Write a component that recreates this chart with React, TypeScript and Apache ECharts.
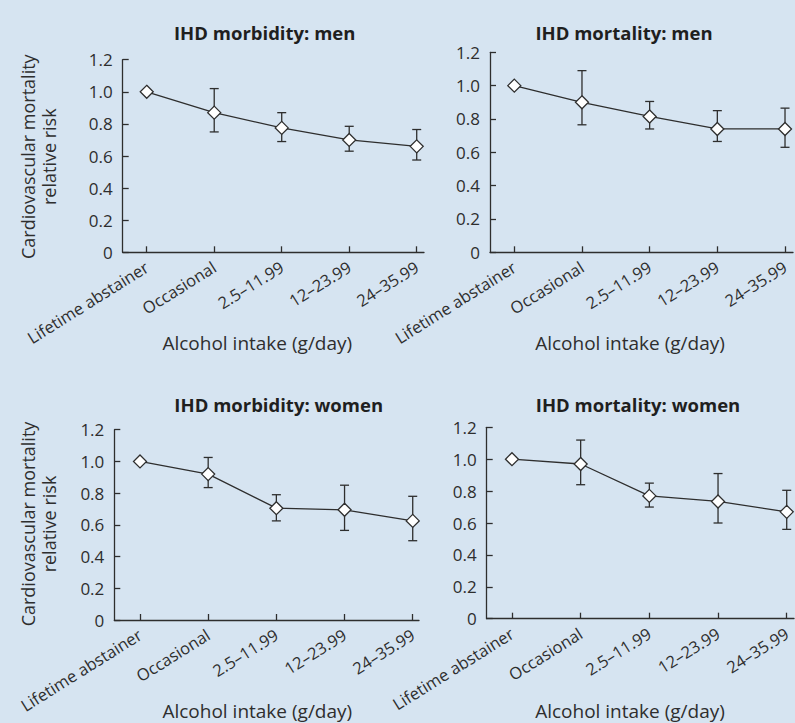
import React, { useEffect, useRef } from "react";
import * as echarts from "echarts";

const categories = ["Lifetime abstainer", "Occasional", "2.5–11.99", "12–23.99", "24–35.99"];
const yTicks = [0, 0.2, 0.4, 0.6, 0.8, 1.0, 1.2];
const panelTitles = ["IHD morbidity: men", "IHD mortality: men", "IHD morbidity: women", "IHD mortality: women"];
const xAxisTitle = "Alcohol intake (g/day)";
const yAxisTitle = "Cardiovascular mortality\nrelative risk";

// IHD morbidity: men
const morbMenRR = [1.0, 0.87, 0.775, 0.7, 0.66];
const morbMenLow = [null, 0.75, 0.69, 0.63, 0.575];
const morbMenHigh = [null, 1.02, 0.87, 0.785, 0.765];
// IHD mortality: men
const mortMenRR = [1.0, 0.9, 0.815, 0.74, 0.74];
const mortMenLow = [null, 0.765, 0.74, 0.665, 0.63];
const mortMenHigh = [null, 1.09, 0.905, 0.85, 0.865];
// IHD morbidity: women
const morbWomenRR = [1.0, 0.92, 0.705, 0.695, 0.625];
const morbWomenLow = [null, 0.835, 0.625, 0.565, 0.5];
const morbWomenHigh = [null, 1.025, 0.79, 0.85, 0.78];
// IHD mortality: women
const mortWomenRR = [1.0, 0.97, 0.77, 0.735, 0.67];
const mortWomenLow = [null, 0.84, 0.7, 0.6, 0.56];
const mortWomenHigh = [null, 1.12, 0.85, 0.91, 0.805];

const W = 795;
const H = 723;
const FONT = "'Open Sans', sans-serif";
const INK = "#2e2e2e";

const layouts = [
  { l: 122.7, r: 424, t: 59.7, b: 252.3, min: -0.356, max: 4.108, title: [264.7, 32], xname: [257.3, 343], yname: [38, 156.7] },
  { l: 490, r: 793, t: 52.3, b: 252.3, min: -0.359, max: 4.118, title: [624, 32], xname: [630, 343], yname: null },
  { l: 114.3, r: 419, t: 429.7, b: 620, min: -0.377, max: 4.092, title: [278.7, 404], xname: [257.3, 711], yname: [38, 524] },
  { l: 486.7, r: 794, t: 427.3, b: 618.7, min: -0.368, max: 4.106, title: [638, 404], xname: [630, 711], yname: null },
];

const panelData = [
  [morbMenRR, morbMenLow, morbMenHigh],
  [mortMenRR, mortMenLow, mortMenHigh],
  [morbWomenRR, morbWomenLow, morbWomenHigh],
  [mortWomenRR, mortWomenLow, mortWomenHigh],
];

export default function App() {
  const ref = useRef<HTMLDivElement>(null);
  useEffect(() => {
    document.body.style.margin = "0";
    if (!ref.current) return;
    const chart = echarts.init(ref.current, null, { renderer: "svg" });
    const grid: any[] = [];
    const xAxis: any[] = [];
    const yAxis: any[] = [];
    const series: any[] = [];
    const graphic: any[] = [];
    layouts.forEach((L, i) => {
      grid.push({ left: L.l, top: L.t, width: L.r - L.l, height: L.b - L.t, containLabel: false });
      xAxis.push({
        type: "value",
        gridIndex: i,
        min: L.min,
        max: L.max,
        splitLine: { show: false },
        axisLine: { onZero: false, lineStyle: { color: INK, width: 1.3 } },
        axisTick: { inside: true, length: 6, customValues: [0, 1, 2, 3, 4], lineStyle: { color: INK, width: 1.3 } },
        axisLabel: {
          customValues: [0, 1, 2, 3, 4],
          rotate: 32,
          margin: 13,
          color: INK,
          fontFamily: FONT,
          fontSize: 16.5,
          formatter: (v: number) => categories[Math.round(v)] ?? "",
        },
      });
      yAxis.push({
        type: "value",
        gridIndex: i,
        min: 0,
        max: 1.2,
        interval: 0.2,
        splitLine: { show: false },
        axisLine: { show: true, onZero: false, lineStyle: { color: INK, width: 1.3 } },
        axisTick: { show: true, inside: true, length: 6, lineStyle: { color: INK, width: 1.3 } },
        axisLabel: {
          color: INK,
          fontFamily: FONT,
          fontSize: 17,
          margin: 10,
          formatter: (v: number) => {
            const t = yTicks.find((k) => Math.abs(k - v) < 1e-6);
            const val = t === undefined ? v : t;
            return val === 0 ? "0" : val.toFixed(1);
          },
        },
      });
      const [rr, lo, hi] = panelData[i];
      const errData = categories
        .map((_, k) => (lo[k] == null ? null : [k, lo[k], hi[k]]))
        .filter((d) => d !== null);
      series.push({
        type: "custom",
        xAxisIndex: i,
        yAxisIndex: i,
        z: 2,
        data: errData,
        encode: { x: 0, y: [1, 2] },
        renderItem: (params: any, api: any) => {
          const x = api.value(0);
          const pLo = api.coord([x, api.value(1)]);
          const pHi = api.coord([x, api.value(2)]);
          const hw = 4.5;
          const st = { stroke: INK, lineWidth: 1.3 };
          return {
            type: "group",
            children: [
              { type: "line", shape: { x1: pLo[0], y1: pLo[1], x2: pHi[0], y2: pHi[1] }, style: st },
              { type: "line", shape: { x1: pLo[0] - hw, y1: pLo[1], x2: pLo[0] + hw, y2: pLo[1] }, style: st },
              { type: "line", shape: { x1: pHi[0] - hw, y1: pHi[1], x2: pHi[0] + hw, y2: pHi[1] }, style: st },
            ],
          };
        },
      });
      series.push({
        type: "line",
        xAxisIndex: i,
        yAxisIndex: i,
        z: 3,
        data: rr.map((v, k) => [k, v]),
        symbol: "diamond",
        symbolSize: 13,
        lineStyle: { color: INK, width: 1.3 },
        itemStyle: { color: "#ffffff", borderColor: INK, borderWidth: 1.3 },
      });
      graphic.push({
        type: "text",
        x: L.title[0],
        y: L.title[1],
        style: { text: panelTitles[i], align: "center", verticalAlign: "middle", fill: "#1f1f1f", font: `bold 18.5px ${FONT}` },
      });
      graphic.push({
        type: "text",
        x: L.xname[0],
        y: L.xname[1],
        style: { text: xAxisTitle, align: "center", verticalAlign: "middle", fill: INK, font: `19px ${FONT}` },
      });
      if (L.yname) {
        graphic.push({
          type: "text",
          x: L.yname[0],
          y: L.yname[1],
          rotation: Math.PI / 2,
          style: { text: yAxisTitle, align: "center", verticalAlign: "middle", fill: INK, font: `18px ${FONT}`, lineHeight: 21 },
        });
      }
    });
    chart.setOption({
      animation: false,
      backgroundColor: "#d6e4f1",
      grid,
      xAxis,
      yAxis,
      series,
      graphic,
    });
    return () => chart.dispose();
  }, []);
  return <div ref={ref} style={{ width: W, height: H }} />;
}
